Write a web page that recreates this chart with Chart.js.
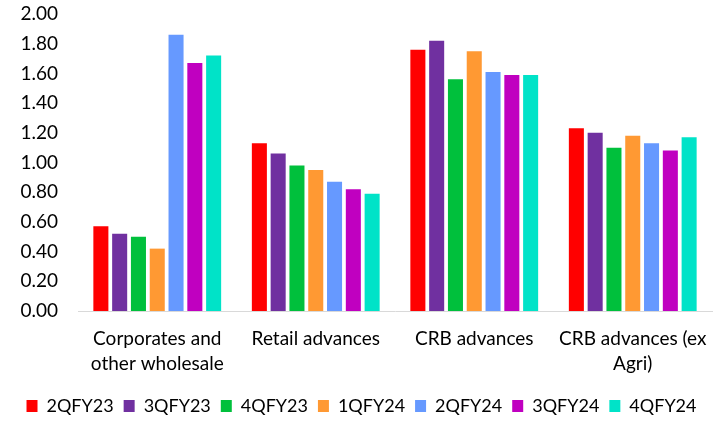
<!DOCTYPE html>
<html>
<head>
<meta charset="utf-8">
<script src="https://cdn.jsdelivr.net/npm/chart.js@4"></script>
<style>
  html, body { margin: 0; padding: 0; background: #fff; }
  #wrap { width: 723px; height: 425px; }
</style>
</head>
<body>
<div id="wrap"><canvas id="c"></canvas></div>
<script>
// 분기별 비율
const categories = [
  ["Corporates and", "other wholesale"],
  "Retail advances",
  "CRB advances",
  ["CRB advances (ex", "Agri)"],
];
const quarters = ["2QFY23", "3QFY23", "4QFY23", "1QFY24", "2QFY24", "3QFY24", "4QFY24"];
const q2FY23 = [0.57, 1.13, 1.76, 1.23];
const q3FY23 = [0.52, 1.06, 1.82, 1.20];
const q4FY23 = [0.50, 0.98, 1.56, 1.10];
const q1FY24 = [0.42, 0.95, 1.75, 1.18];
const q2FY24 = [1.86, 0.87, 1.61, 1.13];
const q3FY24 = [1.67, 0.82, 1.59, 1.08];
const q4FY24 = [1.72, 0.79, 1.59, 1.17];
const yTicks = [0, 0.2, 0.4, 0.6, 0.8, 1.0, 1.2, 1.4, 1.6, 1.8, 2.0];

const series = [q2FY23, q3FY23, q4FY23, q1FY24, q2FY24, q3FY24, q4FY24];
const COLORS = ["#ff0000", "#7030a0", "#00c03c", "#ff9933", "#6699ff", "#c000c0", "#00e3c8"];
const FONT = { family: "Lato, 'Noto Sans', sans-serif", size: 19, lineHeight: 1.3 };
const LEGEND_FONT = { family: "Lato, 'Noto Sans', sans-serif", size: 18 };

new Chart(document.getElementById("c"), {
  type: "bar",
  data: {
    labels: categories,
    datasets: series.map((vals, i) => ({
      label: quarters[i],
      data: vals,
      backgroundColor: COLORS[i],
      categoryPercentage: 0.83,
      barPercentage: 0.8,
    })),
  },
  options: {
    responsive: true,
    maintainAspectRatio: false,
    animation: false,
    layout: { padding: { left: 0, right: 0, top: 14, bottom: 0 } },
    scales: {
      x: {
        grid: { display: false, drawTicks: false },
        border: { color: "#d9d9d9", width: 1 },
        ticks: { color: "#000", font: FONT, padding: 16, maxRotation: 0, autoSkip: false },
        // 오른쪽 여백은 축에만 주고 범례는 캔버스 전체 폭을 쓰게 한다
        afterFit: (s) => { s.height = 76; s.paddingRight = 11; s.paddingLeft = 0; },
      },
      y: {
        min: 0,
        max: 2,
        afterBuildTicks: (s) => { s.ticks = yTicks.map((v) => ({ value: v })); },
        // 눈금 간격(padding)이 위아래 여백에 더해지지 않게 한다
        afterFit: (s) => { s.width = 78; s.paddingTop = 0; s.paddingBottom = 0; },
        grid: { display: false, drawTicks: false },
        border: { display: false },
        ticks: { color: "#000", font: FONT, padding: 20, autoSkip: false, callback: (v) => Number(v).toFixed(2) },
      },
    },
    plugins: {
      legend: {
        position: "bottom",
        labels: { color: "#000", font: LEGEND_FONT, boxWidth: 11, boxHeight: 12, padding: 10 },
      },
      tooltip: { enabled: false },
    },
  },
});
</script>
</body>
</html>
